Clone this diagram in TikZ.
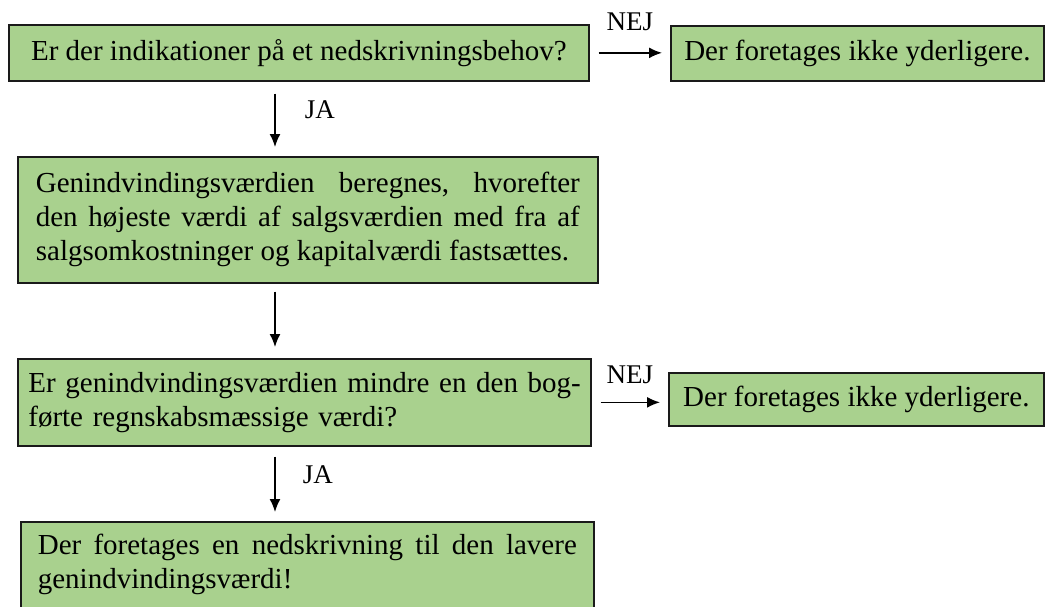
\documentclass[tikz,border=0pt]{standalone}
\usepackage{fontspec}
\setmainfont{Liberation Serif}
\usetikzlibrary{arrows.meta}
\definecolor{boxgreen}{HTML}{A9D18E}
\definecolor{boxline}{HTML}{1A1A1A}
\begin{document}
\begin{tikzpicture}[x=1pt,y=-1pt,
  box/.style={draw=boxline, line width=1.7pt, fill=boxgreen, inner xsep=0pt, inner ysep=0pt,
    font=\fontsize{29}{34}\selectfont, anchor=north west},
  arr/.style={-{Latex[length=13pt,width=11pt]}, line width=1.6pt},
  lbl/.style={font=\fontsize{27}{30}\selectfont, inner sep=0pt}]
\useasboundingbox (0,0) rectangle (1047,606);
\fill[white] (0,0) rectangle (1047,606);

\node[box, minimum width=580pt, minimum height=56pt] (q1) at (8,24)
  {Er der indikationer på et nedskrivningsbehov?};
\node[box, minimum width=373pt, minimum height=55pt] (n1) at (670,25)
  {Der foretages ikke yderligere.};
\node[box, minimum width=580pt, minimum height=126pt, text width=544pt, align=justify] (s2) at (17,156)
  {Genindvindingsværdien\hfill beregnes,\hfill hvorefter\linebreak
   den højeste værdi af salgsværdien med fra af salgsomkostninger og kapitalværdi fastsættes.};
\node[box, minimum width=573pt, minimum height=87pt, text width=552pt, align=left] (q3) at (17,358)
  {\mbox{Er genindvindingsværdien mindre en den bog-}\\førte regnskabsmæssige værdi?};
\node[box, minimum width=375pt, minimum height=53pt] (n3) at (668,372)
  {Der foretages ikke yderligere.};
\node[box, minimum width=573pt, minimum height=86pt, text width=539pt, align=justify] (r4) at (20,521)
  {Der foretages en nedskrivning til den lavere\linebreak genindvindingsværdi!};

\coordinate (ax) at (275,0);

\draw[arr, shorten <=9pt, shorten >=8pt] (q1.east) -- (n1.west |- q1.east)
  node[lbl, midway, above=21pt] {NEJ};
\draw[arr, shorten <=9pt, shorten >=8pt] (q3.east) -- (n3.west |- q3.east)
  node[lbl, midway, above=18pt] {NEJ};

\draw[arr, shorten <=12pt, shorten >=9pt] (q1.south -| ax) -- (s2.north -| ax)
  node[lbl, pos=0.38, right=29pt] {JA};
\draw[arr, shorten <=8pt, shorten >=11pt] (s2.south -| ax) -- (q3.north -| ax);
\draw[arr, shorten <=10pt, shorten >=9pt] (q3.south -| ax) -- (r4.north -| ax)
  node[lbl, pos=0.38, right=27pt] {JA};
\end{tikzpicture}
\end{document}
